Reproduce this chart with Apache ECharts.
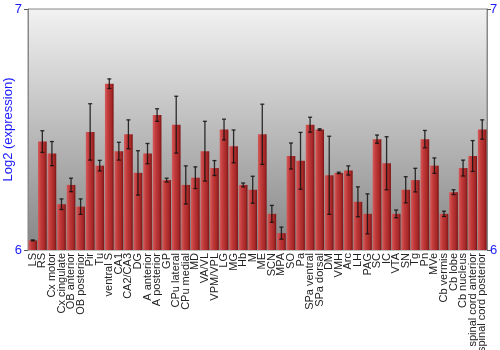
<!DOCTYPE html>
<html><head><meta charset="utf-8">
<script src="https://cdn.jsdelivr.net/npm/echarts@6/dist/echarts.min.js"></script>
<style>html,body{margin:0;padding:0;background:#fff}#c{width:500px;height:350px}</style>
</head><body><div id="c"></div>
<script>
var categories = ["LS","RS","Cx motor","Cx cingulate","OB anterior","OB posterior","Pir","Tu","ventral S","CA1","CA2/CA3","DG","A anterior","A posterior","GP","CPu lateral","CPu medial","MD","VA/VL","VPM/VPL","LG","MG","Hb","M","ME","SCN","MPA","SO","Pa","SPa ventral","SPa dorsal","DM","VMH","Arc","LH","PAG","SC","IC","VTA","SN","Tg","Pn","MVe","Cb vermis","Cb lobe","Cb nucleus","spinal cord anterior","spinal cord posterior"];
var values = [6.04,6.45,6.40,6.19,6.27,6.18,6.49,6.35,6.69,6.41,6.48,6.32,6.40,6.56,6.29,6.52,6.27,6.30,6.41,6.34,6.50,6.43,6.27,6.25,6.48,6.15,6.07,6.39,6.37,6.52,6.50,6.31,6.32,6.33,6.20,6.15,6.46,6.36,6.15,6.25,6.29,6.46,6.35,6.15,6.24,6.34,6.39,6.50];
var errors = [0.002,0.045,0.05,0.022,0.028,0.032,0.117,0.022,0.02,0.037,0.06,0.092,0.042,0.026,0.008,0.118,0.079,0.045,0.124,0.031,0.043,0.068,0.008,0.056,0.125,0.035,0.025,0.054,0.118,0.031,0.003,0.162,0.003,0.019,0.062,0.083,0.017,0.11,0.016,0.054,0.049,0.036,0.032,0.011,0.01,0.033,0.064,0.04];
var yTicks = [6, 7];

var chart = echarts.init(document.getElementById('c'));
var errData = values.map(function(v, i){ return [i, v - errors[i], v + errors[i]]; });
var blue = '#1a1aff';
chart.setOption({
  animation: false,
  grid: {
    left: 28, right: 13, top: 9, bottom: 100, show: true,
    containLabel: false, outerBoundsMode: 'none',
    borderColor: '#888', borderWidth: 1,
    backgroundColor: new echarts.graphic.LinearGradient(0, 0, 0, 1, [
      {offset: 0, color: '#f2f2f2'}, {offset: 1, color: '#858585'}])
  },
  xAxis: {
    type: 'category', data: categories,
    axisLine: {show: false}, axisTick: {show: false},
    axisLabel: {interval: 0, rotate: 90, fontSize: 11, color: '#222', fontFamily: 'Liberation Sans', margin: 3}
  },
  yAxis: [{
    type: 'value', min: yTicks[0], max: yTicks[1], interval: 1,
    name: 'Log2 (expression)', nameLocation: 'middle', nameGap: 13, nameMoveOverlap: false,
    nameTextStyle: {color: blue, fontSize: 13, fontFamily: 'Liberation Sans'},
    axisLine: {show: true, lineStyle: {color: '#888'}},
    axisTick: {show: true, length: 4, lineStyle: {color: '#555'}},
    axisLabel: {color: blue, fontSize: 13, fontFamily: 'Liberation Sans', margin: 6},
    splitLine: {show: false}
  }, {
    type: 'value', min: yTicks[0], max: yTicks[1], interval: 1, position: 'right',
    axisLine: {show: true, lineStyle: {color: '#888'}},
    axisTick: {show: true, length: 4, lineStyle: {color: '#555'}},
    axisLabel: {color: blue, fontSize: 13, fontFamily: 'Liberation Sans', margin: 3},
    splitLine: {show: false}
  }],
  series: [{
    type: 'bar', data: values, barCategoryGap: '9%',
    itemStyle: {
      color: new echarts.graphic.LinearGradient(0, 0, 1, 0, [
        {offset: 0, color: '#d65a5a'}, {offset: 0.35, color: '#c03a3a'},
        {offset: 0.75, color: '#a82828'}, {offset: 1, color: '#7a1414'}])
    }
  }, {
    type: 'custom', data: errData, z: 10,
    renderItem: function(params, api){
      var x = api.value(0);
      var lo = api.coord([x, api.value(1)]);
      var hi = api.coord([x, api.value(2)]);
      var w = 2;
      var st = {stroke: '#111', lineWidth: 1.3, opacity: 0.85};
      return {type: 'group', children: [
        {type: 'line', shape: {x1: hi[0], y1: hi[1], x2: lo[0], y2: lo[1]}, style: st},
        {type: 'line', shape: {x1: hi[0]-w, y1: hi[1], x2: hi[0]+w, y2: hi[1]}, style: st},
        {type: 'line', shape: {x1: lo[0]-w, y1: lo[1], x2: lo[0]+w, y2: lo[1]}, style: st}
      ]};
    }
  }]
});
</script></body></html>
